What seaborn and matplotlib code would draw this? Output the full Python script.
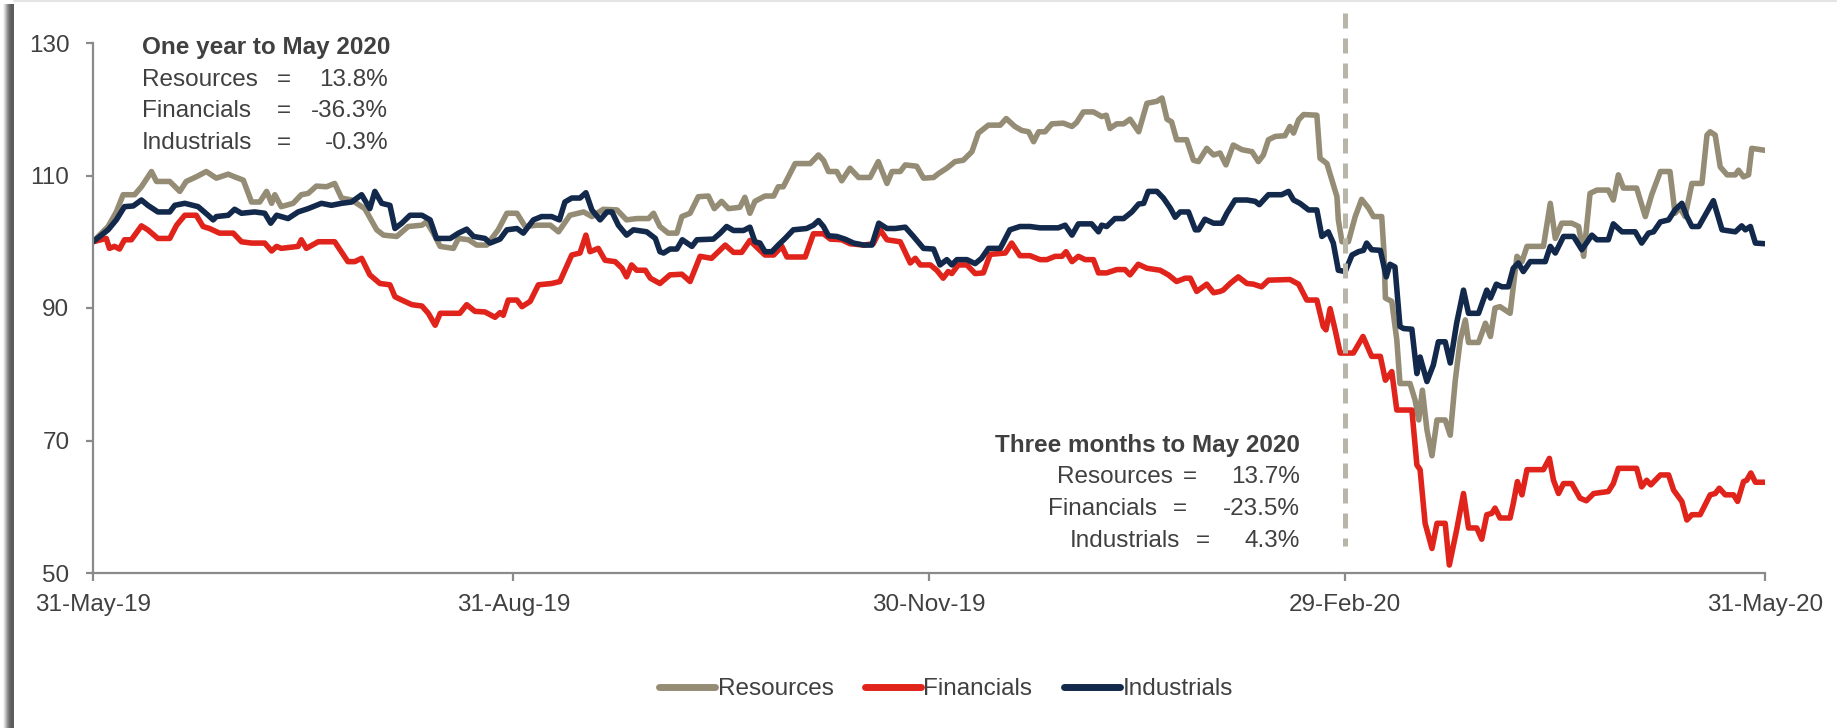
import matplotlib
matplotlib.use('Agg')
import matplotlib.pyplot as plt
import matplotlib.dates as mdates
from matplotlib.lines import Line2D
import numpy as np
import pandas as pd
import seaborn as sns

# ---------------- data ----------------
start_date = '2019-05-31'
series_names = ['Resources', 'Financials', 'Industrials']

resources_days = [0, 3.3, 5.1, 6.6, 9.1, 10.6, 12.8, 13.9, 16.8, 19.0, 20.4, 22.6, 24.8, 27.0, 29.6, 31.0, 32.9, 34.7, 36.5, 38.0,
                  39.1, 39.8, 41.2, 43.8, 45.6, 47.1, 48.9, 51.1, 52.9, 54.4, 56.6, 59.5, 62.1, 63.6, 66.5, 69.0, 72.0, 73.0, 74.5, 76.0,
                  78.9, 80.0, 82.2, 84.0, 86.2, 88.7, 90.6, 92.8, 94.6, 97.1, 100.1, 101.9, 104.4, 107.4, 109.2, 111.7, 114.7, 116.8, 119.0, 121.6,
                  122.7, 124.1, 125.9, 127.8, 128.9, 130.7, 132.5, 134.7, 136.0, 137.6, 139.1, 141.6, 142.7, 143.8, 144.9, 147.1, 149.0, 150.0, 151.1, 153.7,
                  157.0, 158.8, 159.9, 161.0, 162.8, 163.9, 165.7, 167.6, 170.1, 171.9, 173.8, 174.9, 176.7, 177.8, 180.3, 181.8, 184.0, 185.1, 186.9, 188.7,
                  190.5, 192.4, 193.8, 196.0, 198.6, 199.9, 201.8, 203.3, 204.8, 205.9, 207.0, 208.4, 209.9, 212.4, 214.3, 215.3, 216.8, 219.0, 220.8, 221.8,
                  222.6, 224.1, 225.6, 227.0, 228.9, 230.7, 232.9, 234.0, 235.1, 236.1, 237.2, 239.4, 240.9, 242.0, 243.8, 245.3, 246.7, 248.0, 249.6, 251.5,
                  253.7, 255.1, 256.2, 257.3, 258.8, 260.9, 262.0, 262.8, 263.9, 265.0, 267.9, 268.6, 270.1, 271.2, 272.3, 272.6, 273.4, 274.8, 276.3, 277.7,
                  279.2, 280.3, 282.1, 282.6, 282.9, 284.3, 285.4, 286.1, 288.3, 289.4, 290.2, 291.0, 292.0, 293.1, 294.2, 296.0, 297.1, 298.2, 299.3, 300.4,
                  301.1, 303.3, 304.8, 305.9, 306.9, 308.0, 310.2, 311.7, 312.8, 313.9, 317.5, 319.0, 320.1, 321.5, 323.7, 325.2, 326.3, 327.7, 329.2, 331.7,
                  332.8, 333.9, 335.0, 337.9, 339.8, 341.2, 343.1, 345.2, 346.3, 347.4, 348.5, 350.0, 352.2, 353.3, 354.0, 355.1, 356.2, 357.7, 359.5, 360.2,
                  361.3, 362.4, 363.1, 366.0]
resources_vals = [100, 102.3, 104.5, 107.1, 107.1, 108.3, 110.6, 109.1, 109.1, 107.6, 109.1, 109.8, 110.6, 109.6, 110.2, 109.8, 109.3, 106.0, 106.0, 107.6,
                  105.8, 107.1, 105.3, 105.8, 107.1, 107.3, 108.4, 108.3, 108.8, 106.6, 106.3, 105.0, 101.8, 101.0, 100.8, 102.3, 102.5, 103.0, 101.3, 99.3,
                  99.0, 100.5, 100.3, 99.5, 99.5, 101.8, 104.3, 104.3, 102.3, 102.5, 102.5, 101.5, 104.0, 104.5, 103.8, 104.9, 104.8, 103.3, 103.5, 103.5,
                  104.3, 102.3, 101.3, 101.3, 103.8, 104.3, 106.8, 106.9, 105.0, 106.1, 105.0, 105.2, 106.7, 104.3, 106.1, 106.9, 106.9, 108.3, 108.3, 111.8,
                  111.8, 113.1, 112.3, 110.6, 110.6, 109.2, 111.1, 109.7, 109.7, 112.1, 108.8, 110.6, 110.6, 111.6, 111.4, 109.6, 109.7, 110.3, 111.1, 112.1,
                  112.3, 113.6, 116.4, 117.6, 117.6, 118.6, 117.4, 116.8, 116.6, 115.1, 116.6, 116.6, 117.8, 117.9, 117.4, 118.0, 119.6, 119.6, 118.9, 119.1,
                  117.1, 117.8, 117.8, 118.5, 116.6, 120.9, 121.2, 121.7, 118.5, 118.1, 115.4, 115.4, 112.3, 112.1, 114.1, 113.1, 113.4, 111.6, 114.6, 113.9,
                  113.6, 112.1, 113.1, 115.4, 115.9, 116.0, 117.4, 116.4, 118.4, 119.2, 119.1, 112.6, 111.8, 109.3, 106.8, 103.3, 100.0, 100.0, 103.8, 106.4,
                  105.1, 103.8, 103.8, 98.3, 91.5, 91.0, 85.2, 78.6, 78.6, 76.1, 73.1, 77.6, 71.6, 67.7, 73.1, 73.1, 70.8, 79.1, 85.2, 88.2,
                  84.8, 84.8, 87.7, 85.7, 90.0, 90.2, 89.2, 97.8, 97.0, 99.3, 99.3, 105.8, 100.5, 102.8, 102.8, 102.3, 97.8, 107.3, 107.8, 107.8,
                  106.3, 110.1, 108.1, 108.1, 103.8, 107.1, 110.6, 110.6, 104.3, 105.1, 103.8, 108.8, 108.8, 116.1, 116.6, 116.1, 111.3, 110.1, 110.1, 110.8,
                  109.8, 110.1, 114.1, 113.8]

financials_days = [0, 2.9, 3.6, 4.7, 5.8, 6.9, 8.4, 10.6, 12.0, 14.2, 16.8, 18.3, 20.1, 22.6, 24.1, 25.5, 27.7, 30.7, 32.5, 34.7,
                   37.6, 39.1, 40.2, 41.2, 44.9, 45.6, 46.7, 49.3, 52.9, 55.8, 57.3, 58.8, 60.6, 62.8, 65.0, 66.1, 67.6, 69.8, 72.0, 73.4,
                   74.9, 76.0, 80.3, 81.8, 83.6, 85.8, 88.0, 89.1, 89.8, 90.9, 92.8, 93.9, 95.7, 97.5, 100.4, 102.2, 104.8, 106.6, 107.9, 108.8,
                   110.6, 112.1, 114.3, 115.8, 116.8, 117.9, 119.0, 120.9, 122.0, 124.1, 126.3, 128.9, 130.7, 132.9, 135.4, 138.4, 140.2, 142.0, 143.8, 145.7,
                   147.1, 149.0, 150.8, 151.9, 155.9, 157.7, 159.9, 161.4, 163.9, 165.7, 168.7, 170.8, 172.3, 173.8, 176.7, 178.9, 180.0, 181.1, 183.3, 184.7,
                   186.1, 187.2, 188.0, 189.4, 191.3, 193.1, 194.9, 196.4, 199.7, 201.1, 202.9, 205.1, 207.3, 208.8, 210.6, 212.1, 213.0, 214.3, 215.7, 217.2,
                   219.0, 220.1, 221.9, 224.1, 225.9, 227.0, 228.8, 230.7, 233.6, 235.4, 237.2, 239.1, 240.2, 241.6, 243.8, 245.3, 246.7, 247.4, 248.9, 250.7,
                   252.6, 254.0, 255.8, 257.3, 262.0, 263.9, 265.7, 267.9, 269.3, 269.9, 270.8, 271.9, 273.0, 275.9, 278.0, 279.9, 281.8, 282.9, 284.3, 285.4,
                   288.7, 289.8, 290.5, 291.6, 293.1, 294.2, 296.0, 296.9, 298.5, 300.0, 301.1, 302.9, 304.0, 305.1, 306.2, 306.9, 308.0, 310.2, 310.9, 311.8,
                   312.8, 313.9, 317.5, 318.8, 319.7, 320.8, 321.9, 323.7, 325.5, 326.9, 328.5, 331.7, 332.8, 333.9, 337.9, 339.0, 340.1, 341.0, 343.1, 344.9,
                   346.0, 347.8, 348.9, 350.0, 351.8, 354.0, 355.1, 356.0, 357.3, 359.1, 360.0, 361.3, 362.0, 362.9, 363.9, 366.0]
financials_vals = [100, 100.5, 99.0, 99.3, 98.9, 100.3, 100.3, 102.4, 101.8, 100.5, 100.5, 102.5, 104.0, 104.0, 102.3, 102.0, 101.3, 101.3, 100.0, 99.8,
                   99.8, 98.6, 99.3, 99.0, 99.3, 100.3, 99.0, 100.0, 100.0, 97.0, 97.0, 97.5, 95.0, 93.7, 93.5, 91.7, 91.2, 90.5, 90.3, 89.2,
                   87.4, 89.2, 89.2, 90.5, 89.5, 89.4, 88.6, 89.3, 88.9, 91.2, 91.2, 90.2, 91.0, 93.5, 93.7, 94.0, 98.0, 98.3, 101.0, 98.5,
                   99.0, 97.2, 97.0, 96.0, 94.7, 96.5, 95.7, 95.7, 94.5, 93.7, 95.0, 95.1, 94.0, 97.8, 97.5, 99.5, 98.4, 98.4, 100.2, 98.9,
                   98.0, 98.0, 99.3, 97.7, 97.7, 101.2, 101.2, 100.4, 100.3, 99.7, 99.5, 99.7, 101.8, 100.3, 100.0, 96.8, 97.5, 96.5, 96.5, 95.7,
                   94.5, 95.5, 95.2, 96.5, 96.5, 95.2, 95.3, 98.1, 98.3, 99.8, 97.9, 97.9, 97.3, 97.3, 97.8, 97.8, 98.5, 97.0, 97.8, 97.3,
                   97.3, 95.3, 95.3, 95.8, 95.8, 95.0, 96.6, 96.0, 95.7, 95.0, 94.0, 94.5, 94.5, 92.5, 93.6, 92.3, 92.5, 92.7, 93.7, 94.7,
                   93.7, 93.6, 93.2, 94.2, 94.3, 93.6, 91.2, 91.2, 87.2, 86.7, 89.9, 86.7, 83.2, 83.2, 85.7, 82.7, 82.7, 79.1, 80.4, 74.6,
                   74.6, 66.3, 65.6, 57.5, 53.7, 57.5, 57.5, 51.2, 56.5, 62.0, 56.8, 56.8, 55.1, 58.8, 59.0, 59.8, 58.3, 58.3, 60.5, 63.8,
                   61.8, 65.6, 65.6, 67.3, 64.0, 62.0, 63.5, 63.5, 61.3, 60.9, 62.0, 62.3, 63.5, 65.8, 65.8, 63.0, 64.0, 63.3, 64.8, 64.8,
                   62.5, 60.8, 58.0, 58.8, 58.8, 61.8, 62.0, 62.8, 61.8, 61.8, 60.8, 63.8, 64.0, 65.1, 63.7, 63.7]

industrials_days = [0, 3.3, 5.1, 6.9, 8.8, 10.6, 12.0, 14.2, 16.8, 17.9, 20.1, 23.0, 25.2, 26.3, 27.0, 29.6, 31.0, 32.5, 35.4, 37.6,
                    38.9, 40.2, 42.7, 44.9, 47.1, 50.0, 52.2, 54.4, 56.6, 58.8, 60.6, 61.7, 63.2, 65.0, 66.1, 67.6, 69.4, 72.0, 73.8, 75.2,
                    78.2, 80.0, 81.8, 83.3, 85.8, 86.9, 89.1, 90.6, 92.8, 94.2, 96.4, 98.2, 100.4, 102.1, 103.3, 104.8, 106.6, 107.9, 109.2, 111.0,
                    112.5, 113.6, 115.0, 116.8, 118.3, 121.2, 123.1, 124.1, 124.9, 126.3, 127.8, 129.0, 131.1, 132.2, 135.8, 137.3, 138.7, 140.2, 142.4, 143.8,
                    144.9, 146.0, 147.1, 148.6, 150.0, 151.5, 153.3, 156.2, 157.7, 158.8, 159.9, 161.0, 162.8, 164.6, 166.5, 168.7, 170.5, 172.0, 173.8, 175.6,
                    177.8, 179.6, 181.8, 184.0, 185.4, 186.9, 188.0, 189.1, 191.3, 193.1, 194.5, 196.0, 198.6, 200.7, 202.9, 205.1, 207.3, 211.3, 212.8, 214.3,
                    215.7, 218.6, 220.1, 220.8, 221.9, 223.7, 225.6, 227.4, 228.9, 230.0, 231.0, 232.9, 234.3, 235.8, 236.9, 238.0, 239.8, 241.3, 242.0, 243.4,
                    245.3, 247.1, 248.2, 250.0, 252.6, 254.4, 255.3, 257.3, 260.2, 261.7, 262.8, 264.2, 266.1, 267.9, 269.0, 270.4, 271.5, 272.6, 274.1, 275.6,
                    277.0, 278.1, 278.8, 279.9, 281.8, 283.1, 283.9, 285.0, 286.1, 286.9, 288.7, 289.8, 290.5, 292.0, 293.4, 294.5, 296.0, 297.1, 298.5, 300.0,
                    301.1, 303.3, 305.1, 305.9, 307.2, 308.4, 309.8, 310.9, 312.0, 313.1, 314.6, 317.9, 319.0, 320.1, 321.9, 324.1, 325.9, 328.1, 329.2, 331.7,
                    332.8, 334.7, 337.6, 339.0, 340.5, 341.6, 343.1, 344.9, 346.3, 347.8, 348.9, 350.0, 351.5, 352.9, 354.7, 356.6, 359.5, 360.9, 361.7, 362.8,
                    363.9, 366.0]
industrials_vals = [100, 101.8, 103.3, 105.3, 105.4, 106.3, 105.5, 104.5, 104.5, 105.5, 105.8, 105.3, 104.0, 103.3, 103.8, 104.0, 104.9, 104.3, 104.5, 104.3,
                    102.8, 104.0, 103.5, 104.5, 105.0, 105.8, 105.5, 105.8, 106.0, 107.1, 105.0, 107.6, 105.8, 105.5, 102.0, 102.8, 104.0, 104.0, 103.3, 100.5,
                    100.5, 101.3, 101.9, 100.8, 100.5, 99.8, 100.4, 101.8, 102.0, 101.3, 103.3, 103.8, 103.8, 103.3, 106.0, 106.6, 106.6, 107.4, 104.8, 103.3,
                    104.5, 104.5, 102.5, 101.0, 101.8, 101.5, 100.5, 98.5, 98.3, 98.9, 98.9, 100.3, 99.3, 100.3, 100.4, 101.3, 102.3, 101.7, 101.7, 102.2,
                    100.0, 99.8, 98.5, 98.5, 99.5, 100.5, 101.8, 102.0, 102.5, 103.2, 102.3, 100.9, 100.8, 100.4, 99.8, 99.5, 99.5, 102.8, 102.0, 102.0,
                    102.2, 100.8, 99.0, 98.9, 96.5, 97.3, 96.5, 97.3, 97.3, 96.7, 97.5, 99.0, 99.0, 101.8, 102.3, 102.3, 102.1, 102.1, 102.5, 101.0,
                    102.7, 102.7, 101.5, 102.5, 102.3, 103.5, 103.5, 104.5, 105.7, 105.8, 107.6, 107.6, 106.6, 105.1, 103.7, 104.5, 104.5, 101.8, 101.8, 103.4,
                    102.8, 102.8, 104.3, 106.3, 106.3, 106.1, 105.6, 107.1, 107.1, 107.6, 106.3, 105.8, 104.8, 104.8, 100.8, 101.5, 99.8, 95.7, 95.5, 98.0,
                    98.5, 98.7, 99.8, 98.8, 98.7, 94.7, 96.6, 96.2, 87.2, 86.9, 86.8, 80.1, 82.6, 78.9, 81.4, 84.9, 84.9, 81.7, 87.7, 92.7,
                    89.2, 89.2, 92.7, 91.5, 93.6, 93.2, 93.2, 96.0, 96.8, 95.5, 97.0, 97.0, 99.3, 98.3, 100.8, 100.8, 98.8, 101.0, 100.3, 100.3,
                    102.7, 101.5, 101.5, 99.8, 101.3, 101.5, 103.0, 103.3, 104.8, 105.8, 103.8, 102.3, 102.3, 104.0, 106.2, 101.8, 101.5, 102.4, 101.8, 102.3,
                    99.8, 99.7]

x_tick_dates = ['2019-05-31', '2019-08-31', '2019-11-30', '2020-02-29', '2020-05-31']
y_ticks = [50, 70, 90, 110, 130]
marker_date = '2020-02-29'

one_year_title = 'One year to May 2020'
one_year_values = ['13.8%', '-36.3%', '-0.3%']
three_month_title = 'Three months to May 2020'
three_month_values = ['13.7%', '-23.5%', '4.3%']

# ---------------- style ----------------
colors = {'Resources': '#958C75', 'Financials': '#E0241B', 'Industrials': '#13294B'}
text_color = '#404040'
axis_color = '#8A8A8A'
FS = 17.5
LINE_W = 4.0

sns.set_theme(style='ticks')
plt.rcParams['font.family'] = ['Liberation Sans', 'DejaVu Sans']

W, H = 1837, 728
fig = plt.figure(figsize=(W / 100, H / 100), dpi=100)
fig.patch.set_facecolor('white')


def fx(px):
    return px / W


def fy(py):
    return 1 - py / H


ax = fig.add_axes([fx(93), fy(573), (1765 - 93) / W, (573 - 43) / H])

t0 = pd.Timestamp(start_date)
frames = []
for name, days, vals in [('Resources', resources_days, resources_vals),
                         ('Financials', financials_days, financials_vals),
                         ('Industrials', industrials_days, industrials_vals)]:
    frames.append(pd.DataFrame({'date': t0 + pd.to_timedelta(days, unit='D'),
                                'value': vals, 'series': name}))
df = pd.concat(frames, ignore_index=True)

sns.lineplot(data=df, x='date', y='value', hue='series', hue_order=series_names,
             palette=colors, estimator=None, errorbar=None, linewidth=LINE_W,
             ax=ax, legend=False)
for ln in ax.lines:
    ln.set_linewidth(LINE_W)
    ln.set_solid_joinstyle('round')
    ln.set_solid_capstyle('round')

# vertical dashed marker at 29-Feb-20
md = pd.Timestamp(marker_date)
mk, = ax.plot([md, md], [134.5, 54.1], color='#B8B5A9', clip_on=False, zorder=5)
mk.set_linewidth(3.6)
mk.set_dashes((3.0, 2.0))
mk.set_dash_capstyle('butt')

ax.set_xlim(pd.Timestamp(x_tick_dates[0]), pd.Timestamp(x_tick_dates[-1]))
ax.set_ylim(50, 130)
ax.set_yticks(y_ticks)
ax.set_xticks(pd.to_datetime(x_tick_dates))
ax.xaxis.set_major_formatter(mdates.DateFormatter('%d-%b-%y'))
ax.set_xlabel('')
ax.set_ylabel('')
for s in ['top', 'right']:
    ax.spines[s].set_visible(False)
for s in ['left', 'bottom']:
    ax.spines[s].set_color(axis_color)
    ax.spines[s].set_linewidth(1.6)
ax.tick_params(axis='both', colors=axis_color, labelcolor=text_color,
               labelsize=FS, width=1.6)
ax.tick_params(axis='y', length=5, pad=12)
ax.tick_params(axis='x', length=6, pad=9)
ax.set_facecolor('white')

# ---------------- annotations ----------------
fig.text(fx(142), fy(54), one_year_title, fontsize=FS, fontweight='bold',
         color=text_color, ha='left', va='baseline')
for i, (name, val) in enumerate(zip(series_names, one_year_values)):
    base = [86, 117.3, 149][i]
    fig.text(fx(142), fy(base), name, fontsize=FS, color=text_color, ha='left', va='baseline')
    fig.text(fx(284), fy(base), '=', fontsize=FS, color=text_color, ha='center', va='baseline')
    fig.text(fx(388), fy(base), val, fontsize=FS, color=text_color, ha='right', va='baseline')

fig.text(fx(1300), fy(451.7), three_month_title, fontsize=FS, fontweight='bold',
         color=text_color, ha='right', va='baseline')
label_end = [1173, 1157, 1180]
eq_center = [1190, 1180, 1203]
for i, (name, val) in enumerate(zip(series_names, three_month_values)):
    base = [482.7, 515, 546.7][i]
    fig.text(fx(label_end[i]), fy(base), name, fontsize=FS, color=text_color, ha='right', va='baseline')
    fig.text(fx(eq_center[i]), fy(base), '=', fontsize=FS, color=text_color, ha='center', va='baseline')
    fig.text(fx(1300), fy(base), val, fontsize=FS, color=text_color, ha='right', va='baseline')

# ---------------- legend ----------------
handles = [Line2D([0], [0], color=colors[n], lw=5.0) for n in series_names]
fig.legend(handles, series_names, loc='center', bbox_to_anchor=(fx(946), fy(689)),
           ncol=3, frameon=False, fontsize=FS, handlelength=2.3, handletextpad=0.1,
           columnspacing=1.3, labelcolor=text_color)

# ---------------- slide frame (left shadow, top edge) ----------------
sh = fig.add_axes([fx(3), 0, 11 / W, 1 - 4 / H])
grad = np.array([[0.95, 0.88, 0.78, 0.68, 0.58, 0.50, 0.44, 0.40, 0.37, 0.36, 0.37]])
sh.imshow(grad, cmap='gray', vmin=0, vmax=1, aspect='auto', interpolation='bilinear')
sh.axis('off')
fig.add_artist(Line2D([fx(14), 1], [fy(1), fy(1)], color='#E4E4E4', lw=1.5))

fig.savefig('out.png', dpi=100, facecolor='white')
